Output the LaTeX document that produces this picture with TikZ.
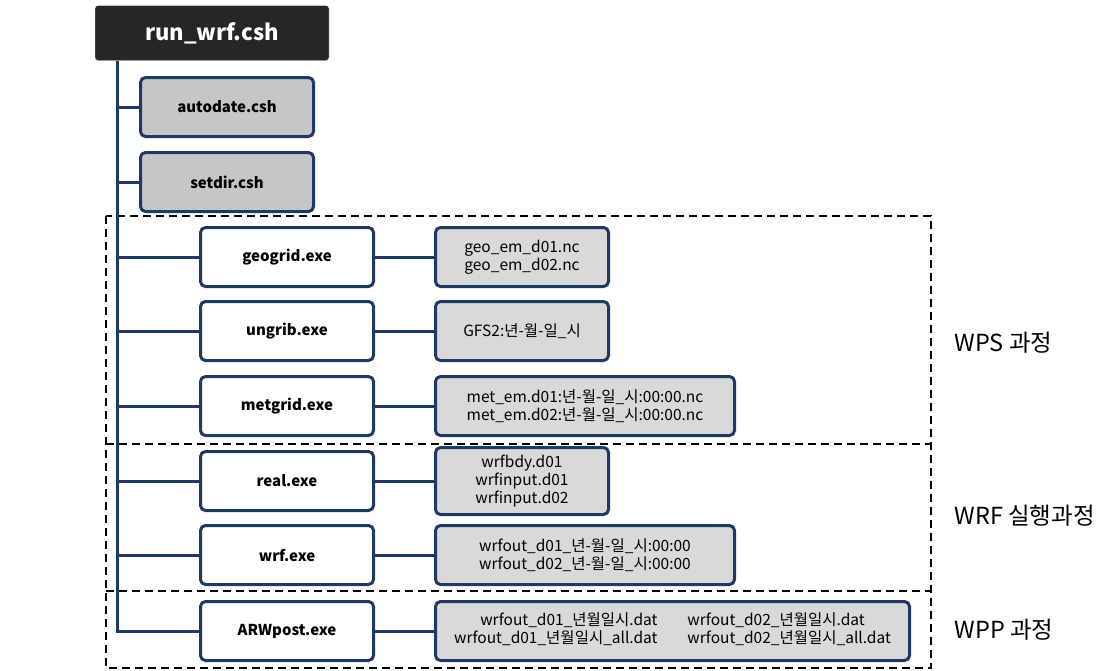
\documentclass[tikz,border=0pt]{standalone}
\usepackage{fontspec}
\setmainfont{Noto Sans CJK KR}
\usetikzlibrary{positioning}
\definecolor{boxblue}{HTML}{1F3864}
\definecolor{topfill}{HTML}{262626}
\definecolor{setfill}{HTML}{C6C6C6}
\definecolor{outfill}{HTML}{D9D9D9}
\tikzset{
	topbox/.style={draw=black!10, fill=topfill, rounded corners=3pt, minimum width=234, minimum height=55, inner sep=0pt, text=white, font=\fontsize{22}{24}\selectfont\bfseries},
	setbox/.style={draw=boxblue, line width=3pt, fill=setfill, rounded corners=5pt, minimum width=173, minimum height=59, inner sep=0pt, font=\fontsize{15}{18}\selectfont\bfseries},
	exebox/.style={setbox, fill=white},
	outbox/.style={draw=boxblue, line width=3pt, fill=outfill, rounded corners=5pt, minimum height=59, inner sep=0pt, align=center, font=\fontsize{15.5}{18}\selectfont},
	link/.style={draw=boxblue, line width=3pt},
	stage/.style={draw, dash pattern=on 8pt off 5pt, line width=1.8pt},
	stagename/.style={anchor=west, font=\fontsize{23.5}{26}\selectfont}
}
\begin{document}
\begin{tikzpicture}[x=1pt, y=-1pt]
		%%%%% START %%%%%
		\useasboundingbox (0, 0) rectangle (1116, 670);
		
		% stage frames
		\draw[stage] (106, 216) rectangle (931, 668);
		\draw[stage] (106, 444) -- (931, 444);
		\draw[stage] (106, 591) -- (931, 591);
		\node[stagename] (wps) at (951, 343) {WPS 과정};
		\node[stagename] (wrfstage) at (951, 516) {WRF 실행과정};
		\node[stagename] (wpp) at (951, 630) {WPP 과정};
		
		% main script
		\node[topbox] (run) at (212, 33) {run\_wrf.csh};
		\coordinate (trunk) at (117, 61);
		
		\node[setbox] (auto) at (227, 107) {autodate.csh};
		\node[setbox] (setdir) at (227, 182) {setdir.csh};
		
		\node[exebox] (geo) at (287, 257) {geogrid.exe};
		\node[exebox] (ungrib) at (287, 331) {ungrib.exe};
		\node[exebox] (met) at (287, 406) {metgrid.exe};
		\node[exebox] (real) at (287, 481) {real.exe};
		\node[exebox] (wrf) at (287, 555) {wrf.exe};
		\node[exebox] (arw) at (287, 631) {ARWpost.exe};
		
		% outputs
		\node[outbox, anchor=west, minimum width=173] (geoout) at (434, 257) {geo\_em\_d01.nc\\geo\_em\_d02.nc};
		\node[outbox, anchor=west, minimum width=173] (ungribout) at (434, 331) {GFS2:년-월-일\_시};
		\node[outbox, anchor=west, minimum width=299] (metout) at (434, 406) {met\_em.d01:년-월-일\_시:00:00.nc\\met\_em.d02:년-월-일\_시:00:00.nc};
		\node[outbox, anchor=west, minimum width=173, minimum height=67] (realout) at (434, 481) {wrfbdy.d01\\wrfinput.d01\\wrfinput.d02};
		\node[outbox, anchor=west, minimum width=299] (wrfout) at (434, 555) {wrfout\_d01\_년-월-일\_시:00:00\\wrfout\_d02\_년-월-일\_시:00:00};
		\node[outbox, anchor=west, minimum width=474] (arwout) at (434, 631) {%
			\begin{tabular}{@{}r@{\hspace{30pt}}l@{}}
				wrfout\_d01\_년월일시.dat & wrfout\_d02\_년월일시.dat\\
				wrfout\_d01\_년월일시\_all.dat & wrfout\_d02\_년월일시\_all.dat
			\end{tabular}};
		
		% tree lines
		\draw[link] (trunk) -- (trunk |- arw.west) -- (arw.west);
		\foreach \n in {auto, setdir, geo, ungrib, met, real, wrf}
			\draw[link] (trunk |- \n.west) -- (\n.west);
		\foreach \n/\o in {geo/geoout, ungrib/ungribout, met/metout, real/realout, wrf/wrfout, arw/arwout}
			\draw[link] (\n.east) -- (\n.east -| \o.west);
		
		%%%%% END %%%%%
	\end{tikzpicture}
\end{document}
